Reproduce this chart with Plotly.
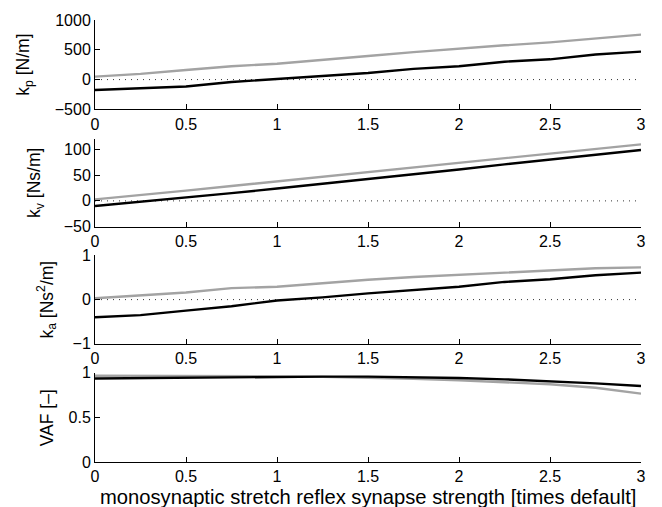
import plotly.graph_objects as go

x = [0, 0.25, 0.5, 0.75, 1, 1.25, 1.5, 1.75, 2, 2.25, 2.5, 2.75, 3]

kp_black = [-175, -150, -115, -40, 10, 55, 110, 180, 225, 300, 340, 420, 470]
kp_gray = [50, 95, 160, 225, 265, 335, 395, 460, 520, 575, 625, 690, 755]

kv_black = [-10, -2, 6, 15, 24, 33, 43, 52, 61, 71, 80, 90, 99]
kv_gray = [3, 11, 20, 29, 38, 47, 57, 66, 75, 84, 93, 102, 110]

ka_black = [-0.40, -0.35, -0.25, -0.15, -0.02, 0.05, 0.14, 0.22, 0.29, 0.40, 0.46, 0.55, 0.61]
ka_gray = [0.03, 0.09, 0.16, 0.26, 0.29, 0.37, 0.45, 0.51, 0.56, 0.60, 0.65, 0.71, 0.73]

vaf_black = [0.935, 0.94, 0.945, 0.95, 0.955, 0.955, 0.955, 0.95, 0.94, 0.925, 0.905, 0.88, 0.85]
vaf_gray = [0.965, 0.965, 0.963, 0.96, 0.958, 0.953, 0.945, 0.93, 0.915, 0.895, 0.87, 0.83, 0.765]

x_ticks = [0, 0.5, 1, 1.5, 2, 2.5, 3]
x_ticklabels = ["0", "0.5", "1", "1.5", "2", "2.5", "3"]
x_title = "monosynaptic stretch reflex synapse strength [times default]"

panels = [
    dict(black=kp_black, gray=kp_gray, yrange=[-500, 1000], yticks=[-500, 0, 500, 1000],
         title="k<sub>p</sub> [N/m]", zero=True, title_px=25),
    dict(black=kv_black, gray=kv_gray, yrange=[-50, 120], yticks=[-50, 0, 50, 100],
         title="k<sub>v</sub> [Ns/m]", zero=True, title_px=36),
    dict(black=ka_black, gray=ka_gray, yrange=[-1, 1], yticks=[-1, 0, 1],
         title="k<sub>a</sub> [Ns<sup>2</sup>/m]", zero=True, title_px=47),
    dict(black=vaf_black, gray=vaf_gray, yrange=[0, 1], yticks=[0, 0.5, 1],
         title="VAF [–]", zero=False, title_px=47),
]

domains = [[0.7978, 1.0], [0.5326, 0.7303], [0.2674, 0.4674], [0.0, 0.2022]]

W, H = 662, 507
ML, MR, MT, MB = 95, 21, 17, 45
PW = W - ML - MR
PH = H - MT - MB

FONT = "Liberation Sans, Arial, Helvetica, sans-serif"
fig = go.Figure()
annotations = []

for i, p in enumerate(panels):
    n = i + 1
    xa = "x" if n == 1 else f"x{n}"
    ya = "y" if n == 1 else f"y{n}"
    if p["zero"]:
        fig.add_trace(go.Scatter(x=[x[0], x[-1]], y=[0, 0], mode="lines",
                                 line=dict(color="#333333", width=1, dash="1px,5px"),
                                 xaxis=xa, yaxis=ya, showlegend=False, hoverinfo="skip"))
    fig.add_trace(go.Scatter(x=x, y=p["gray"], mode="lines",
                             line=dict(color="#a3a3a3", width=2.4),
                             xaxis=xa, yaxis=ya, showlegend=False))
    fig.add_trace(go.Scatter(x=x, y=p["black"], mode="lines",
                             line=dict(color="black", width=2.4),
                             xaxis=xa, yaxis=ya, showlegend=False))

    xkey = "xaxis" if n == 1 else f"xaxis{n}"
    ykey = "yaxis" if n == 1 else f"yaxis{n}"
    fig.update_layout(**{
        xkey: dict(domain=[0, 1], anchor=ya, range=[0, 3], tickvals=x_ticks,
                   ticktext=x_ticklabels,
                   ticks="inside", ticklen=5, tickcolor="black", tickwidth=1,
                   showline=True, linecolor="black", linewidth=1, showgrid=False,
                   zeroline=False, tickfont=dict(size=16, color="black", family=FONT)),
        ykey: dict(domain=domains[i], anchor=xa, range=p["yrange"], tickvals=p["yticks"],
                   ticks="inside", ticklen=5, tickcolor="black", tickwidth=1,
                   showline=True, linecolor="black", linewidth=1, showgrid=False,
                   zeroline=False, tickfont=dict(size=16, color="black", family=FONT)),
    })
    annotations.append(dict(
        text=p["title"], textangle=-90, showarrow=False,
        xref="paper", yref="paper",
        x=(p["title_px"] - ML) / PW, y=sum(domains[i]) / 2,
        xanchor="center", yanchor="middle",
        font=dict(size=17.5, color="black", family=FONT)))

annotations.append(dict(
    text=x_title, showarrow=False, xref="paper", yref="paper",
    x=0.5, y=-35 / PH, xanchor="center", yanchor="middle",
    font=dict(size=20.2, color="black", family=FONT)))

fig.update_layout(width=W, height=H, margin=dict(l=ML, r=MR, t=MT, b=MB),
                  paper_bgcolor="white", plot_bgcolor="white",
                  font=dict(family=FONT, color="black"),
                  annotations=annotations)

fig.write_html("out.html")
